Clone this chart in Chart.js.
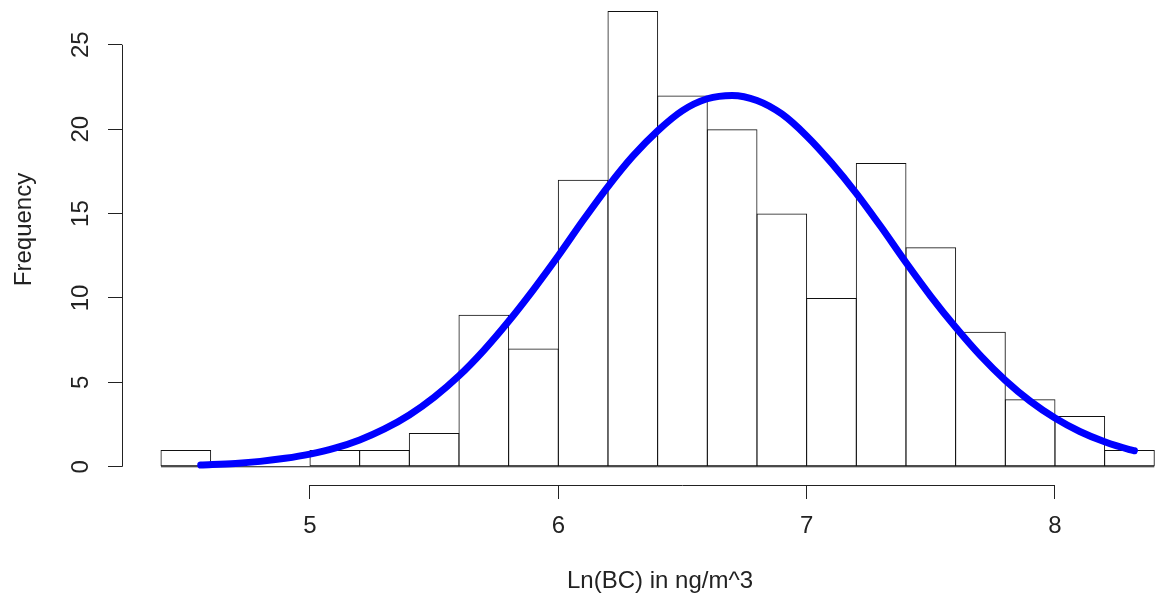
<!DOCTYPE html>
<html>
<head>
<meta charset="utf-8">
<script src="https://cdn.jsdelivr.net/npm/chart.js@4"></script>
<style>
  html, body { margin: 0; padding: 0; background: #fff; overflow: hidden; }
  /* the R plot region runs past the top and right edges of the picture */
  canvas { display: block; margin-top: -26px; }
</style>
</head>
<body>
<canvas id="histChart" width="1198" height="630"></canvas>
<script>
// histogram bins (Ln(BC)), width 0.2
const binStarts = [4.4, 4.6, 4.8, 5.0, 5.2, 5.4, 5.6, 5.8, 6.0, 6.2, 6.4, 6.6, 6.8, 7.0, 7.2, 7.4, 7.6, 7.8, 8.0, 8.2];
const binWidth = 0.2;
const counts = [1, 0, 0, 1, 1, 2, 9, 7, 17, 27, 22, 20, 15, 10, 18, 13, 8, 4, 3, 1];

// fitted curve
const curveX = [4.56, 4.7, 4.8, 4.9, 5.0, 5.1, 5.2, 5.3, 5.4, 5.5, 5.6, 5.7, 5.8, 5.9, 6.0, 6.1, 6.2, 6.3, 6.4, 6.5,
  6.6, 6.7, 6.8, 6.9, 7.0, 7.1, 7.2, 7.3, 7.4, 7.5, 7.6, 7.7, 7.8, 7.9, 8.0, 8.1, 8.2, 8.3, 8.32];
const curveY = [0.1, 0.2, 0.32, 0.5, 0.75, 1.1, 1.59, 2.24, 3.07, 4.12, 5.39, 6.9, 8.62, 10.5, 12.5, 14.6, 16.6, 18.4, 19.9, 21.1,
  21.8, 22.0, 21.7, 20.9, 19.6, 18.0, 16.2, 14.2, 12.1, 10.1, 8.26, 6.58, 5.12, 3.89, 2.89, 2.09, 1.48, 1.02, 0.95];

const xTicks = [5, 6, 7, 8];
const yTicks = [0, 5, 10, 15, 20, 25];

const FONT = { family: "'Liberation Sans', Arial, sans-serif", size: 24 };
const INK = '#222';

function noEdgePadding(s) {
  s.paddingTop = 0;
  s.paddingRight = 0;
  s.paddingLeft = 0;
  s.paddingBottom = 0;
}

// R style axes: line only from first to last tick
const rAxisLines = {
  id: 'rAxisLines',
  afterDraw(chart) {
    const ctx = chart.ctx;
    const xs = chart.scales.x, ys = chart.scales.y;
    const area = chart.chartArea;
    ctx.save();
    ctx.strokeStyle = INK;
    ctx.lineWidth = 1;
    ctx.beginPath();
    const yb = Math.round(area.bottom) + 0.5;
    ctx.moveTo(xs.getPixelForValue(xTicks[0]), yb);
    ctx.lineTo(xs.getPixelForValue(xTicks[xTicks.length - 1]), yb);
    const xl = Math.round(area.left) + 0.5;
    ctx.moveTo(xl, ys.getPixelForValue(yTicks[0]));
    ctx.lineTo(xl, ys.getPixelForValue(yTicks[yTicks.length - 1]));
    ctx.stroke();
    ctx.restore();
  }
};

const ctx = document.getElementById('histChart');
new Chart(ctx, {
  type: 'bar',
  data: {
    datasets: [
      {
        type: 'line',
        label: 'normal curve',
        data: curveX.map((x, i) => ({ x: x, y: curveY[i] })),
        borderColor: '#0000ff',
        borderWidth: 7,
        borderCapStyle: 'round',
        borderJoinStyle: 'round',
        pointRadius: 0,
        cubicInterpolationMode: 'monotone',
        fill: false,
        order: 0
      },
      {
        type: 'line',
        label: 'baseline',
        data: [{ x: binStarts[0], y: 0 }, { x: binStarts[binStarts.length - 1] + binWidth, y: 0 }],
        borderColor: '#111',
        borderWidth: 1,
        pointRadius: 0,
        fill: false,
        order: 2
      },
      {
        label: 'Frequency',
        data: binStarts.map((s, i) => ({ x: s + binWidth / 2, y: counts[i] })),
        backgroundColor: 'rgba(255,255,255,0)',
        borderColor: '#111',
        borderWidth: 1,
        borderSkipped: false,
        categoryPercentage: 1,
        barPercentage: 1.02,
        order: 1
      }
    ]
  },
  options: {
    responsive: false,
    animation: false,
    devicePixelRatio: 1,
    layout: { autoPadding: false, padding: 0 },
    plugins: {
      legend: { display: false },
      tooltip: { enabled: false }
    },
    scales: {
      x: {
        type: 'linear',
        min: 4.243,
        max: 8.576,
        offset: false,
        afterBuildTicks: (s) => { s.ticks = xTicks.map(v => ({ value: v })); },
        afterFit: (s) => { s.height = 119; noEdgePadding(s); },
        grid: { offset: false, drawOnChartArea: false, drawTicks: true, tickLength: 14, color: INK },
        border: { display: false },
        ticks: { font: FONT, color: '#222', padding: 13, maxRotation: 0, autoSkip: false },
        title: { display: true, text: 'Ln(BC) in ng/m^3', font: FONT, color: '#222', padding: { top: 0, bottom: 8 } }
      },
      y: {
        type: 'linear',
        min: -1.08,
        max: 29.19,
        afterBuildTicks: (s) => { s.ticks = yTicks.map(v => ({ value: v })); },
        afterFit: (s) => { s.width = 122; noEdgePadding(s); },
        grid: { drawOnChartArea: false, drawTicks: true, tickLength: 14, color: INK },
        border: { display: false },
        ticks: { font: FONT, color: '#222', padding: 13, minRotation: 90, maxRotation: 90, crossAlign: 'center' },
        title: { display: true, text: 'Frequency', font: FONT, color: '#222', padding: { top: 10, bottom: 0 } }
      }
    }
  },
  plugins: [rAxisLines]
});
</script>
</body>
</html>
